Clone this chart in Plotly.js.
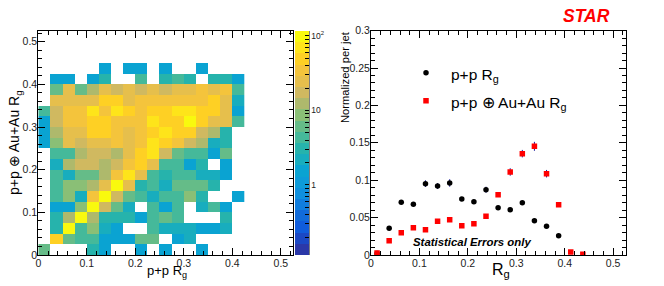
<!DOCTYPE html>
<html>
<head>
<meta charset="utf-8">
<script src="https://cdn.plot.ly/plotly-3.0.1.min.js"></script>
<style>html,body{margin:0;padding:0;background:#fff}</style>
</head>
<body>
<div id="chart" style="width:664px;height:286px"></div>
<script>
const _ = null;
const binX = [0.0125,0.0375,0.0625,0.0875,0.1125,0.1375,0.1625,0.1875,0.2125,0.2375,0.2625,0.2875,0.3125,0.3375,0.3625,0.3875,0.4125];
const binY = [0.0125,0.0375,0.0625,0.0875,0.1125,0.1375,0.1625,0.1875,0.2125,0.2375,0.2625,0.2875,0.3125,0.3375,0.3625,0.3875,0.4125,0.4375];
const counts = [
 [6.2,_,_,_,3.1,1.5,_,_,1.5,_,1.5,_,_,1.5,_,_,_],
 [_,49,6.2,4.3,4.3,1.5,1.5,1.5,6.2,6.2,_,1.5,2.2,_,_,_,_],
 [_,3.1,98,4.3,8.7,2.2,1.5,_,_,4.3,2.2,2.2,2.2,1.5,1.5,2.2,_],
 [_,3.1,12,98,12,3.1,3.1,3.1,1.5,4.3,6.2,4.3,_,_,_,3.1,_],
 [_,1.5,1.5,8.7,98,17,6.2,2.2,_,4.3,1.5,4.3,_,2.2,4.3,1.5,_],
 [_,4.3,8.7,2.2,35,98,17,6.2,4.3,2.2,4.3,4.3,8.7,3.1,_,_,1.5],
 [_,4.3,8.7,8.7,12,25,98,25,3.1,4.3,2.2,6.2,6.2,6.2,3.1,_,_],
 [_,4.3,2.2,6.2,6.2,12,35,69,25,4.3,3.1,4.3,4.3,2.2,2.2,1.5,_],
 [_,2.2,12,17,17,12,17,35,49,25,4.3,4.3,1.5,3.1,_,1.5,_],
 [_,4.3,4.3,12,17,17,12,25,49,69,17,6.2,4.3,4.3,1.5,6.2,_],
 [1.5,8.7,25,17,25,25,35,25,35,69,49,35,17,12,2.2,3.1,_],
 [1.5,12,25,25,49,49,35,25,35,49,69,49,49,17,12,3.1,_],
 [1.5,17,35,35,49,49,35,35,35,69,49,49,98,49,25,25,4.3],
 [4.3,17,35,35,69,35,69,49,35,49,49,69,69,49,49,25,1.5],
 [_,25,25,25,25,49,49,25,35,35,35,35,35,35,49,25,2.2],
 [_,6.2,25,6.2,12,25,17,25,17,25,17,25,25,35,25,35,4.3],
 [_,1.5,1.5,_,1.5,3.1,_,_,4.3,_,3.1,4.3,3.1,_,3.1,3.1,1.5],
 [_,_,_,_,_,1.5,_,1.5,1.5,_,1.5,_,_,1.5,_,_,_]
];
const binColors = ['#2b38a8','#1b48c4','#105cdc','#116bda','#107ede','#0f90de','#0d9bd9','#0aa3d2','#18adbe','#26b3ac','#45b99a','#65bc88','#8abf76','#aeb96c','#d0b960','#e6bf4c','#f4c43c','#fed024','#fee41a','#f9f90e'];

const rgX = [0.0125,0.0375,0.0625,0.0875,0.1125,0.1375,0.1625,0.1875,0.2125,0.2375,0.2625,0.2875,0.3125,0.3375,0.3625,0.3875,0.4125,0.4375];
const ppY =    [0.002,0.0357,0.0704,0.0677,0.0954,0.0922,0.0963,0.0749,0.0713,0.0873,0.0633,0.0606,0.0700,0.0459,0.0383,0.0258,_,_];
const ppErr =  [0.0005,0.0015,0.002,0.002,0.0045,0.004,0.005,0.0025,0.0025,0.004,0.002,0.002,0.002,0.0015,0.0015,0.001,_,_];
const embY =   [0.0027,0.0192,0.0299,0.0365,0.0339,0.0450,0.0472,0.0392,0.0419,0.0517,0.0807,0.1110,0.1355,0.1453,0.1087,0.0673,0.0040,0.0009];
const embErr = [0.0005,0.0015,0.0015,0.0015,0.0015,0.002,0.002,0.002,0.002,0.002,0.003,0.005,0.005,0.006,0.005,0.003,0.0005,0.0003];
const legendX = [0.1136];
const legendPpY = [0.2437];
const legendEmbY = [0.2063];
const barTickVals = [1,2,3,4,5,6,7,8,9,10,20,30,40,50,60,70,80,90,100,0.2,0.3,0.4,0.5,0.6,0.7,0.8,0.9];
const barTickMajor = {1:'1',10:'10',100:'10<sup>2</sup>'};

const W = 664, H = 286;
const px = v => v / W, py = v => 1 - v / H;
const tickFont = {family:'"Liberation Sans", Arial, sans-serif', size:10.5, color:'#222'};
const textFamily = '"Liberation Sans", Arial, sans-serif';

function axis(extra){
  return Object.assign({showline:true, linecolor:'#000', linewidth:1, mirror:'ticks', ticks:'inside', ticklen:7,
    tickcolor:'#000', tickwidth:1, showgrid:false, zeroline:false, tickfont:tickFont, automargin:false, ticklabelstandoff:-2}, extra);
}
const stepScale = [];
binColors.forEach((c,i)=>{ stepScale.push([i/20,c]); stepScale.push([(i+1)/20,c]); });

const traces = [
 {type:'heatmap', x:binX, y:binY, z:counts.map(r=>r.map(v=>v===null?null:Math.log10(v))), xaxis:'x', yaxis:'y',
  colorscale:stepScale, zmin:-0.94, zmax:2.067, zsmooth:false, hoverongaps:false,
  colorbar:{x:px(295), xanchor:'left', y:py(31), yanchor:'top', len:224/H, lenmode:'fraction', thickness:14, thicknessmode:'pixels',
    xpad:0, ypad:0, outlinewidth:0, ticks:'inside', ticklen:4, tickwidth:1, tickcolor:'#000',
    tickmode:'array', tickvals:barTickVals.map(v=>Math.log10(v)), ticktext:barTickVals.map(v=>barTickMajor[v]||''),
    tickfont:{family:textFamily,size:8.5,color:'#222'}}},
 {type:'scatter', mode:'markers', x:rgX, y:ppY, xaxis:'x2', yaxis:'y2', marker:{color:'#000',size:5.5,symbol:'circle'},
  error_y:{type:'data',array:ppErr,color:'#1a1a9c',thickness:1,width:0}, showlegend:false},
 {type:'scatter', mode:'markers', x:rgX, y:embY, xaxis:'x2', yaxis:'y2', marker:{color:'#ff0000',size:5.5,symbol:'square'},
  error_y:{type:'data',array:embErr,color:'#1a1a9c',thickness:1,width:0}, showlegend:false},
 {type:'scatter', mode:'markers', x:legendX, y:legendPpY, xaxis:'x2', yaxis:'y2', marker:{color:'#000',size:5.5,symbol:'circle'}, showlegend:false},
 {type:'scatter', mode:'markers', x:legendX, y:legendEmbY, xaxis:'x2', yaxis:'y2', marker:{color:'#ff0000',size:5.5,symbol:'square'}, showlegend:false}
];

function note(text,x,y,size,extra){
  return Object.assign({text:text, xref:'paper', yref:'paper', x:px(x), y:py(y), xanchor:'left', yanchor:'middle', showarrow:false,
    font:{family:textFamily,size:size,color:'#000'}}, extra||{});
}
const layout = {
  width:W, height:H, margin:{l:0,r:0,t:0,b:0}, paper_bgcolor:'#fff', plot_bgcolor:'#fff', showlegend:false,
  xaxis:axis({domain:[px(38.3),px(293)], range:[0,0.525], dtick:0.1, tick0:0, minor:{dtick:0.02,ticks:'inside',ticklen:4,tickcolor:'#000'}, anchor:'y'}),
  yaxis:axis({domain:[py(255),py(31)], range:[0,0.525], dtick:0.1, tick0:0, minor:{dtick:0.02,ticks:'inside',ticklen:4,tickcolor:'#000'}, anchor:'x'}),
  xaxis2:axis({domain:[px(371),px(625.7)], range:[0,0.526], dtick:0.1, tick0:0, minor:{dtick:0.02,ticks:'inside',ticklen:4,tickcolor:'#000'}, anchor:'y2'}),
  yaxis2:axis({domain:[py(255),py(30.6)], range:[0,0.3], dtick:0.05, tick0:0, minor:{dtick:0.01,ticks:'inside',ticklen:4,tickcolor:'#000'}, anchor:'x2'}),
  annotations:[
    note('p+p ⊕ Au+Au R<sub>g</sub>',15,143,14,{xanchor:'center',textangle:-90}),
    note('p+p R<sub>g</sub>',145,271,13),
    note('Normalized per jet',345,77,11.2,{xanchor:'center',textangle:-90}),
    note('R<sub>g</sub>',490,270,16),
    note('p+p R<sub>g</sub>',449,75,15.5),
    note('p+p ⊕ Au+Au R<sub>g</sub>',449,103,15.5),
    note('<b><i>Statistical Errors only</i></b>',411,242,11.4),
    note('<b><i>STAR</i></b>',561,16,17.5,{font:{family:textFamily,size:17.5,color:'#ff0000'}})
  ],
  shapes:[
    {type:'line',xref:'paper',yref:'paper',x0:px(309),x1:px(309),y0:py(255),y1:py(31),line:{color:'#000',width:1},layer:'above'}
  ]
};
Plotly.newPlot('chart',traces,layout,{displayModeBar:false,staticPlot:true});
</script>
</body>
</html>
